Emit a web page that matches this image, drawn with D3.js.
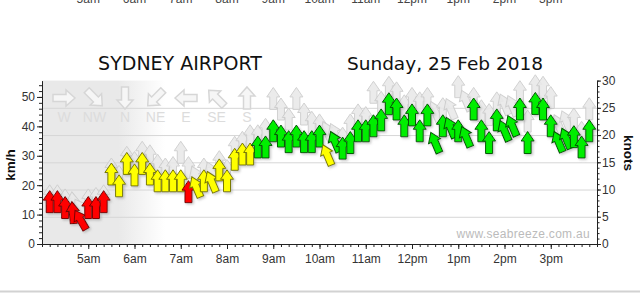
<!DOCTYPE html>
<html>
<head>
<meta charset="utf-8">
<script src="https://cdn.jsdelivr.net/npm/d3@7"></script>
<style>
body { margin: 0; background: #fff; }
svg { display: block; }
text { font-family: "Liberation Sans", Arial, sans-serif; }
</style>
</head>
<body>
<script>

// observation times, 10 minute readings
var times = ["04:10","04:20","04:30","04:40","04:50","05:00","05:10","05:20","05:30","05:40","05:50",
  "06:00","06:10","06:20","06:30","06:40","06:50","07:00","07:10","07:20","07:30","07:40","07:50",
  "08:00","08:10","08:20","08:30","08:40","08:50","09:00","09:10","09:20","09:30","09:40","09:50",
  "10:00","10:10","10:20","10:30","10:40","10:50","11:00","11:10","11:20","11:30","11:40","11:50",
  "12:00","12:10","12:20","12:30","12:40","12:50","13:00","13:10","13:20","13:30","13:40","13:50",
  "14:00","14:10","14:20","14:30","14:40","14:50","15:00","15:10","15:20","15:30","15:40","15:50"];

// wind speed km/h
var speed = [14.4,14.4,12.4,10.7,8.2,12.4,12.4,14.4,23.8,19.8,27.4,
  23.5,27.4,23.8,21.5,21.5,21.5,21.5,17.8,19.4,21.5,21.2,25.2,
  21.5,28.8,30.6,30.6,33,33,38.5,36.7,34.8,36.7,34.8,34.8,
  36.7,30.3,34.8,32.6,34.5,38.5,38.5,40.2,42.2,47.7,45.9,40.2,
  43.9,38.5,43.9,34.5,40.2,39.6,38.5,36.5,45.9,38.5,34.5,42.2,
  38.5,40.2,45.9,34.5,47.8,45.9,40.2,34.8,35.9,36.5,33,38.5];

// gust km/h
var gust = [16.4,16.4,15,14,12,15,15.5,16.4,25.5,23,29.5,
  27.7,31.2,30,26.8,25.5,26,31.2,26,23,25.5,24.4,28,
  25,32.9,34.6,36.8,36.8,39,49.5,45.9,42.5,49.5,44.2,41.4,
  40.5,38.2,37.5,36,40.5,43.9,43,51.6,48.2,53.3,51.4,47,
  49.5,48,49.5,45,46,46,53.5,48.8,49.5,45.3,44,48,
  47.5,47,51.8,41.8,53.8,53.3,49.8,40.5,41.8,42.5,38,46];

// direction wind comes from, degrees
var dir = [180,180,180,175,150,180,180,180,180,180,180,
  180,180,180,180,180,180,180,180,157,180,157,180,
  180,180,180,180,180,180,180,180,180,180,180,180,
  180,157,157,180,180,180,180,180,180,180,180,180,
  180,180,180,157,180,157,180,157,180,180,180,180,
  157,157,180,180,180,180,180,157,157,180,180,180];

var hourTicks = ["05:00","06:00","07:00","08:00","09:00","10:00","11:00","12:00","13:00","14:00","15:00"];
var kmhTicks = [0,10,20,30,40,50];
var knotTicks = [0,5,10,15,20,25,30];
var legendDirs = ["W","NW","N","NE","E","SE","S"];
var legendDeg = [270,315,0,45,90,135,180];

var parse = d3.timeParse("%H:%M");
var data = times.map(function(t, i) {
  return {t: parse(t), speed: speed[i], gust: gust[i], dir: dir[i]};
});

var width = 640, height = 295;
var svg = d3.select("body").append("svg")
  .attr("width", width).attr("height", height);

var x = d3.scaleTime().domain([parse("04:00"), parse("16:00")]).range([42, 597]);
var yk = d3.scaleLinear().domain([0, 30]).range([244, 80.6]);
var y = d3.scaleLinear().domain([0, 30 * 1.852]).range([244, 80.6]);

var defs = svg.append("defs");
var grad = defs.append("linearGradient").attr("id", "night")
  .attr("gradientUnits", "userSpaceOnUse")
  .attr("x1", 42).attr("x2", 165).attr("y1", 0).attr("y2", 0);
grad.append("stop").attr("offset", "0.62").attr("stop-color", "#e9e9e9");
grad.append("stop").attr("offset", "1").attr("stop-color", "#ffffff");

var shadow = defs.append("filter").attr("id", "shadow")
  .attr("x", "-50%").attr("y", "-50%").attr("width", "200%").attr("height", "200%");
shadow.append("feDropShadow").attr("dx", 1.5).attr("dy", 1.5)
  .attr("stdDeviation", 1).attr("flood-color", "#888").attr("flood-opacity", 0.45);

// cut off labels from the chart above
svg.append("g").selectAll("text").data(hourTicks).enter().append("text")
  .attr("x", function(d) { return x(parse(d)); })
  .attr("y", 3)
  .attr("text-anchor", "middle")
  .attr("font-size", 12)
  .attr("fill", "#444")
  .text(function(d) { return d3.timeFormat("%-I%p")(parse(d)).toLowerCase(); });

// titles
svg.append("text").attr("x", 180).attr("y", 70)
  .attr("text-anchor", "middle")
  .style("font-family", "'DejaVu Sans', sans-serif")
  .attr("font-size", 19).attr("fill", "#111")
  .text("SYDNEY AIRPORT");
svg.append("text").attr("x", 445).attr("y", 70)
  .attr("text-anchor", "middle")
  .style("font-family", "'DejaVu Sans', sans-serif")
  .attr("font-size", 18.5).attr("fill", "#111")
  .text("Sunday, 25 Feb 2018");

// night shading
svg.append("rect")
  .attr("x", x(parse("04:00"))).attr("y", yk(30))
  .attr("width", x(parse("06:40")) - x(parse("04:00")))
  .attr("height", yk(0) - yk(30))
  .attr("fill", "url(#night)");

// grid
svg.append("g").selectAll("line").data(knotTicks.slice(1, 6)).enter().append("line")
  .attr("x1", x.range()[0]).attr("x2", x.range()[1])
  .attr("y1", function(d) { return yk(d) + 0.5; })
  .attr("y2", function(d) { return yk(d) + 0.5; })
  .attr("stroke", "#d6d6d6");

// arrow pointing up, centred on 0,0
var arrowPath = "M0,-11 L6.5,-1.5 L3.5,-1.5 L3.5,11 L-3.5,11 L-3.5,-1.5 L-6.5,-1.5 Z";
var bigArrow = "M0,-11 L8,-2 L3.5,-2 L3.5,11 L-3.5,11 L-3.5,-2 L-8,-2 Z";

// legend
var lx = d3.scalePoint().domain(legendDirs).range([64, 247]);
var leg = svg.append("g").selectAll("g").data(legendDirs).enter().append("g");
leg.append("path")
  .attr("d", bigArrow)
  .attr("transform", function(d, i) {
    return "translate(" + lx(d) + ",98) rotate(" + (legendDeg[i] + 180) + ")";
  })
  .attr("fill", "#f6f6f6").attr("stroke", "#d6d6d6").attr("stroke-width", 1.5);
leg.append("text")
  .attr("x", function(d) { return lx(d); })
  .attr("y", 122)
  .attr("text-anchor", "middle")
  .attr("font-size", 14)
  .attr("fill", "#dcdcdc")
  .text(function(d) { return d; });

// watermark
svg.append("text").attr("x", 590).attr("y", 238)
  .attr("text-anchor", "end").attr("font-size", 12)
  .attr("fill", "#bbbbbb").attr("letter-spacing", 0.3)
  .text("www.seabreeze.com.au");

// gusts behind
svg.append("g").selectAll("path").data(data).enter().append("path")
  .attr("d", arrowPath)
  .attr("transform", function(d) {
    return "translate(" + x(d.t) + "," + y(d.gust) + ") rotate(" + (d.dir + 180) + ")";
  })
  .attr("fill", "#e9e9e9").attr("stroke", "#cccccc").attr("stroke-width", 1)
  .attr("opacity", 0.9);

function colour(kmh) {
  var kn = kmh / 1.852;
  if (kn < 10) return ["#ff0000", "#7a0000"];
  if (kn < 17) return ["#ffff00", "#7a7a00"];
  return ["#00ee00", "#005a00"];
}

svg.append("g").attr("filter", "url(#shadow)")
  .selectAll("path").data(data).enter().append("path")
  .attr("d", arrowPath)
  .attr("transform", function(d) {
    return "translate(" + x(d.t) + "," + y(d.speed) + ") rotate(" + (d.dir + 180) + ")";
  })
  .attr("fill", function(d) { return colour(d.speed)[0]; })
  .attr("stroke", function(d) { return colour(d.speed)[1]; })
  .attr("stroke-width", 1);

// axes
var axisColor = "#222";
svg.append("g").attr("transform", "translate(42,0)")
  .call(d3.axisLeft(y).tickValues(kmhTicks).tickSize(5).tickSizeOuter(0).tickPadding(2));
svg.append("g").attr("transform", "translate(42,0)")
  .call(d3.axisLeft(y).tickValues(d3.range(0, 56, 2)).tickSize(3).tickFormat(""))
  .select(".domain").remove();

svg.append("g").attr("transform", "translate(597,0)")
  .call(d3.axisRight(yk).tickValues(knotTicks).tickSize(4).tickSizeOuter(0).tickPadding(1));
svg.append("g").attr("transform", "translate(597,0)")
  .call(d3.axisRight(yk).tickValues(d3.range(0, 31, 1)).tickSize(2.5).tickFormat(""))
  .select(".domain").remove();

svg.append("g").attr("transform", "translate(0,244)")
  .call(d3.axisBottom(x).tickValues(hourTicks.map(parse)).tickSize(5).tickSizeOuter(0).tickPadding(5)
    .tickFormat(function(d) { return d3.timeFormat("%-I%p")(d).toLowerCase(); }));
svg.append("g").attr("transform", "translate(0,244)")
  .call(d3.axisBottom(x).ticks(d3.timeMinute.every(10)).tickSize(3).tickFormat(""))
  .select(".domain").remove();

svg.selectAll(".domain, .tick line").attr("stroke", axisColor);
svg.selectAll(".tick text").attr("font-size", 12).attr("fill", "#333")
  .style("font-family", "'Liberation Sans', Arial, sans-serif");

svg.append("text")
  .attr("transform", "translate(15,165) rotate(-90)")
  .attr("text-anchor", "middle").attr("font-size", 13.5).attr("font-weight", "bold")
  .attr("fill", "#111")
  .text("km/h");
svg.append("text")
  .attr("transform", "translate(624,153) rotate(90)")
  .attr("text-anchor", "middle").attr("font-size", 13.5).attr("font-weight", "bold")
  .attr("fill", "#111")
  .text("knots");

// page edge at the bottom
svg.append("line").attr("x1", 0).attr("x2", 640).attr("y1", 291.5).attr("y2", 291.5)
  .attr("stroke", "#d2d2d2").attr("stroke-width", 2);

</script>
</body>
</html>
